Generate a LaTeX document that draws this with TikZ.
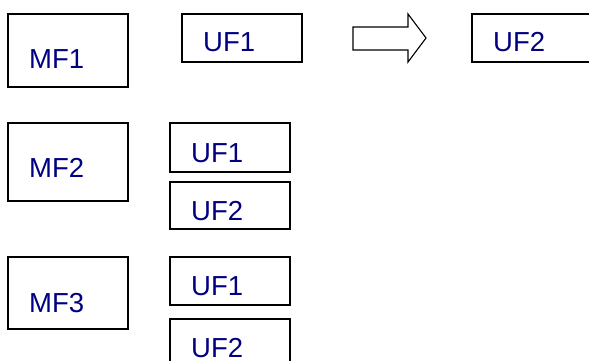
\documentclass[tikz,border=0pt]{standalone}
\usepackage{fontspec}
\setmainfont{Liberation Sans}
\definecolor{navytext}{RGB}{0,0,128}
\begin{document}
\begin{tikzpicture}[x=1pt,y=-1pt,
  box/.style={draw=black,line width=1.1pt,inner sep=0pt,minimum width=#1},
  txt/.style={text=navytext,font=\fontsize{27.5}{30}\selectfont,inner sep=0pt,anchor=base west}]
\useasboundingbox (0,0) rectangle (589,361);
% row 1
\node[box=120,minimum height=73] (mf1) at (68,50.5) {};
\node[txt] (mf1t) at (29,69) {MF1};
\node[box=120,minimum height=48] (uf1a) at (242,38) {};
\node[txt] (uf1at) at (203,52) {UF1};
\draw[line width=1.1pt,line join=miter] (353,27) -- (408,27) -- (408,14) -- (426,38) -- (408,62) -- (408,50) -- (353,50) -- cycle;
\node[box=130,minimum height=48] (uf2a) at (537,38) {};
\node[txt] (uf2at) at (493,52) {UF2};
% row 2
\node[box=120,minimum height=78] (mf2) at (68,162) {};
\node[txt] (mf2t) at (29,177) {MF2};
\node[box=120,minimum height=49] (uf1b) at (230,147.5) {};
\node[txt] (uf1bt) at (191,162) {UF1};
\node[box=120,minimum height=47] (uf2b) at (230,205.5) {};
\node[txt] (uf2bt) at (191,220) {UF2};
% row 3
\node[box=120,minimum height=72] (mf3) at (68,293) {};
\node[txt] (mf3t) at (29,312) {MF3};
\node[box=120,minimum height=48] (uf1c) at (230,281) {};
\node[txt] (uf1ct) at (191,295) {UF1};
\node[box=120,minimum height=56] (uf2c) at (230,347) {};
\node[txt] (uf2ct) at (191,357) {UF2};
\end{tikzpicture}
\end{document}
